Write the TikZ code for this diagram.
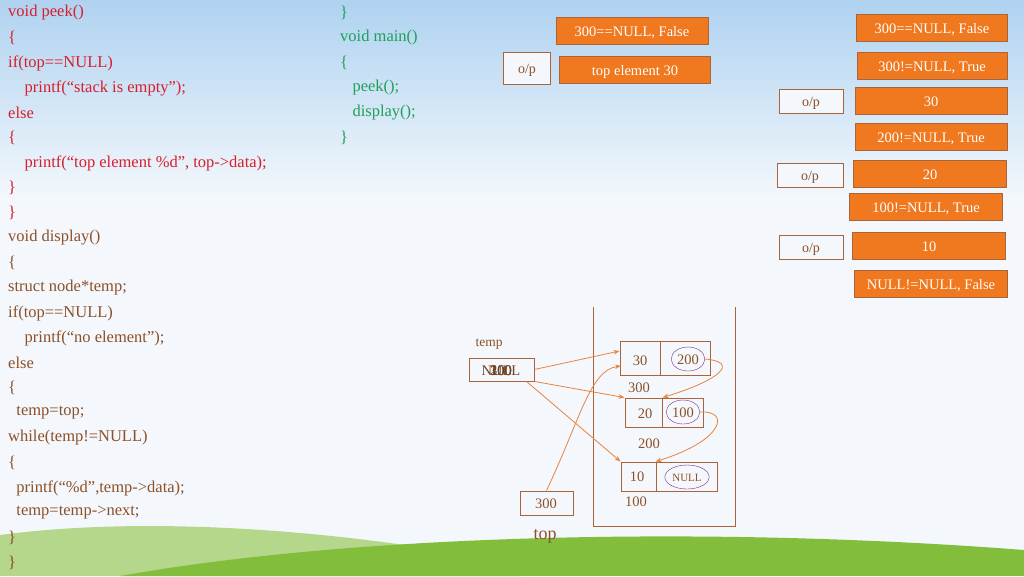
\documentclass[tikz,border=0pt]{standalone}
\usepackage{fontspec}
\setmainfont{Liberation Serif}
\usetikzlibrary{arrows.meta,shapes.geometric}
\definecolor{codered}{RGB}{215,30,45}
\definecolor{codebrown}{RGB}{140,80,40}
\definecolor{codegreen}{RGB}{30,160,90}
\definecolor{boxorange}{RGB}{240,120,30}
\definecolor{lineorange}{RGB}{235,130,60}
\definecolor{cellbrown}{RGB}{170,100,60}
\definecolor{ringpurple}{RGB}{120,40,140}
\definecolor{skyblue}{RGB}{175,210,240}
\definecolor{paleblue}{RGB}{244,248,252}
\definecolor{hillgreen}{RGB}{130,190,60}
\definecolor{hilllight}{RGB}{180,215,140}
\begin{document}
\begin{tikzpicture}[x=1pt,y=-1pt,
  code/.style={anchor=west,inner sep=0pt,font=\fontsize{16.5}{16.5}\selectfont},
  ob/.style={draw=cellbrown,fill=boxorange,text=white,minimum height=27pt,inner sep=0pt,text height=10pt,text depth=0pt,font=\fontsize{14.5}{14.5}\selectfont},
  op/.style={draw=cellbrown,fill=paleblue,text=codebrown,minimum height=24pt,inner sep=0pt,text height=10pt,text depth=0pt,font=\fontsize{14}{14}\selectfont},
  cell/.style={draw=cellbrown,line width=0.9pt,inner sep=0pt},
  lbl/.style={text=codebrown,inner sep=0pt,text height=10pt,text depth=0pt,font=\fontsize{14.5}{14.5}\selectfont},
  ring/.style={draw=ringpurple,ellipse,inner sep=1pt,minimum width=32pt,minimum height=24pt,text=codebrown,text height=10pt,text depth=0pt,font=\fontsize{14.5}{14.5}\selectfont},
  arr/.style={draw=lineorange,line width=0.8pt,-{Stealth[length=6pt,open]}}]
\useasboundingbox (0,0) rectangle (1024,576);
% background
\fill[top color=skyblue,bottom color=paleblue] (0,0) rectangle (1024,200);
\fill[paleblue] (0,200) rectangle (1024,576);
\fill[hilllight] (0,535) .. controls (150,515) and (350,530) .. (520,565) -- (520,576) -- (0,576) -- cycle;
\fill[hillgreen] (120,576) .. controls (350,535) and (700,525) .. (1024,550) -- (1024,576) -- cycle;
% code
\foreach \t [count=\i] in {void peek(),\{,if(top==NULL),\quad printf(“stack is empty”);,else,\{,\quad printf(“top element \%d”{,} top->data);,\},\}}
  \node[code,text=codered] at (8,{13+25*(\i-1)}) {\t};
\foreach \t [count=\i] in {void display(),\{,struct node*temp;,if(top==NULL),\quad printf(“no element”);,else,\{,\enspace temp=top;,while(temp!=NULL),\{,\enspace printf(“\%d”{,}temp->data);,\enspace temp=temp->next;,\},\}}
  \node[code,text=codebrown] at (8,{13+25*(\i+8)}) {\t};
\foreach \t [count=\i] in {\},void main(),\{,\enspace\ peek();,\enspace\ display();,\}}
  \node[code,text=codegreen] at (340,{13+25*(\i-1)}) {\t};
% orange boxes
\node[ob,minimum width=152pt] (b1) at (632,31) {300==NULL, False};
\node[op,minimum width=47pt,minimum height=32pt] (p0) at (527,68) {o/p};
\node[ob,minimum width=151pt] (b2) at (635,70) {top element 30};
\node[ob,minimum width=151pt] (r1) at (932,28) {300==NULL, False};
\node[ob,minimum width=150pt] (r2) at (932,66) {300!=NULL, True};
\node[op,minimum width=64pt] (p1) at (811,101) {o/p};
\node[ob,minimum width=152pt] (r3) at (931,101) {30};
\node[ob,minimum width=152pt] (r4) at (931,137) {200!=NULL, True};
\node[op,minimum width=66pt] (p2) at (810,175) {o/p};
\node[ob,minimum width=153pt] (r5) at (930,174) {20};
\node[ob,minimum width=153pt] (r6) at (926,207) {100!=NULL, True};
\node[op,minimum width=64pt] (p3) at (811,247) {o/p};
\node[ob,minimum width=153pt] (r7) at (929,246) {10};
\node[ob,minimum width=153pt] (r8) at (931,284) {NULL!=NULL, False};
% stack container
\draw[draw=cellbrown,line width=0.9pt] (593,307) -- (593,526) -- (735,526) -- (735,307);
% linked nodes
\node[cell,minimum width=40pt,minimum height=34pt] (d30) at (640,358) {};
\node[cell,minimum width=50pt,minimum height=34pt] (n30) at (685,358) {};
\node[lbl] at (640,360) {30};
\node[ring] (c200) at (688,359) {200};
\node[cell,minimum width=37pt,minimum height=29pt] (d20) at (643.5,412.5) {};
\node[cell,minimum width=41pt,minimum height=29pt] (n20) at (682.5,412.5) {};
\node[lbl] at (645,413) {20};
\node[ring,minimum width=30pt] (c100) at (683,412) {100};
\node[cell,minimum width=35pt,minimum height=29pt] (d10) at (638.5,476.5) {};
\node[cell,minimum width=61pt,minimum height=29pt] (n10) at (686.5,476.5) {};
\node[lbl] at (637,476) {10};
\node[ring,minimum width=42pt,text height=8pt,font=\fontsize{11}{11}\selectfont] (cnull) at (687,477) {NULL};
\node[lbl] (a300) at (639,387) {300};
\node[lbl] (a200) at (649,443) {200};
\node[lbl] (a100) at (636,501) {100};
% temp and top
\node[lbl,font=\fontsize{13.5}{13.5}\selectfont] (tl) at (489,341) {temp};
\node[cell,minimum width=65pt,minimum height=23pt] (temp) at (501.5,369.5) {};
\foreach \t in {300,200,100,NULL} \node[lbl,text=codebrown!80!black] at (501,370) {\t};
\node[cell,minimum width=53pt,minimum height=24pt] (top) at (546.5,503) {};
\node[lbl] at (546,503) {300};
\node[lbl,font=\fontsize{18}{18}\selectfont,text height=12pt] (tp) at (545,533) {top};
% arrows
\draw[arr] (temp.east) -- (d30.west|-0,351);
\draw[arr] (temp.south east) -- (d20.north west);
\draw[arr] (temp.south east) ++(-8,0) -- (d10.north west);
\draw[arr] (top.north) .. controls (580,420) and (590,370) .. (621,366);
\draw[arr] (c200.east) .. controls (740,362) and (720,380) .. (d20.north east);
\draw[arr] (c100.east) .. controls (730,410) and (725,440) .. (n10.north west);
\end{tikzpicture}
\end{document}
